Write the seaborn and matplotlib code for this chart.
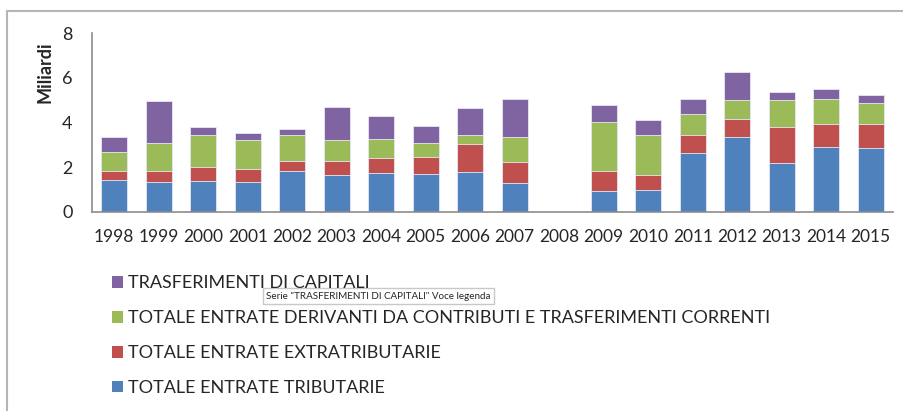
import numpy as np
import pandas as pd
import seaborn as sns
import matplotlib.pyplot as plt
from matplotlib.lines import Line2D
from matplotlib.patches import Patch

years = [str(y) for y in range(1998, 2016)]
tributarie = [1.43, 1.33, 1.39, 1.33, 1.82, 1.66, 1.73, 1.70, 1.79, 1.30, 0.0,
              0.96, 1.00, 2.64, 3.33, 2.19, 2.91, 2.87]
extratributarie = [0.41, 0.51, 0.60, 0.60, 0.46, 0.62, 0.69, 0.78, 1.25, 0.92, 0.0,
                   0.85, 0.67, 0.81, 0.83, 1.63, 1.02, 1.07]
contributi = [0.82, 1.26, 1.43, 1.29, 1.14, 0.94, 0.85, 0.59, 0.41, 1.15, 0.0,
              2.23, 1.78, 0.94, 0.83, 1.17, 1.11, 0.94]
trasferimenti = [0.68, 1.84, 0.37, 0.32, 0.30, 1.48, 1.01, 0.78, 1.18, 1.66, 0.0,
                 0.72, 0.64, 0.64, 1.28, 0.38, 0.47, 0.37]

series = ["TOTALE ENTRATE TRIBUTARIE", "TOTALE ENTRATE EXTRATRIBUTARIE",
          "TOTALE ENTRATE DERIVANTI DA CONTRIBUTI E TRASFERIMENTI CORRENTI",
          "TRASFERIMENTI DI CAPITALI"]
colors = ["#4F81BD", "#C0504D", "#9BBB59", "#8064A2"]

df = pd.DataFrame({"year": years, series[0]: tributarie, series[1]: extratributarie,
                   series[2]: contributi, series[3]: trasferimenti})
cum = df[series].cumsum(axis=1)
cum["year"] = df["year"]

sns.set_style("white")
plt.rcParams["font.family"] = ["Lato", "DejaVu Sans"]

fig = plt.figure(figsize=(9.04, 4.11), dpi=100)
ax = fig.add_axes([0.1018, 0.4842, 0.886, 0.4355])

# draw the cumulative totals from the top series down so each layer stacks
for name, color in zip(series[::-1], colors[::-1]):
    sns.barplot(data=cum, x="year", y=name, color=color, width=0.58,
                edgecolor="#e8e8f4", linewidth=0.6, saturation=1, ax=ax)

ax.set_ylim(0, 8)
ax.set_yticks([0, 2, 4, 6, 8])
ax.set_xlim(-0.5, len(years) - 0.5)
ax.set_xlabel("")
ax.set_ylabel("")
ax.tick_params(axis="y", labelsize=13, length=0, pad=14)
ax.tick_params(axis="x", labelsize=12.5, length=0, pad=12)
for side in ["top", "right"]:
    ax.spines[side].set_visible(False)
for side in ["left", "bottom"]:
    ax.spines[side].set_color("#8c8c8c")
    ax.spines[side].set_linewidth(1.2)

fig.text(45 / 904, 1 - 72 / 411, "Miliardi", rotation=90, fontsize=13,
         fontweight="bold", ha="center", va="center")

handles = [Patch(facecolor=c, edgecolor="none") for c in colors[::-1]]
fig.legend(handles, series[::-1], loc="upper left",
           bbox_to_anchor=(96 / 904, 1 - 259 / 411), frameon=False,
           fontsize=13, handlelength=0.6, handleheight=0.6,
           handletextpad=0.25, labelspacing=1.05)

# tooltip left in the original screenshot
fig.text(266 / 904, 1 - 296 / 411, 'Serie "TRASFERIMENTI DI CAPITALI" Voce legenda',
         fontsize=7.1, ha="left", va="center",
         bbox=dict(boxstyle="square,pad=0.35", facecolor="white", edgecolor="#c8c8c8"))

# outer frame of the chart area
fig.add_artist(Line2D([7 / 904, 1], [1 - 11 / 411] * 2, color="#b5b5b5", lw=1.5))
fig.add_artist(Line2D([7 / 904] * 2, [0, 1 - 11 / 411], color="#b5b5b5", lw=1.5))

fig.savefig("out.png", dpi=100)
